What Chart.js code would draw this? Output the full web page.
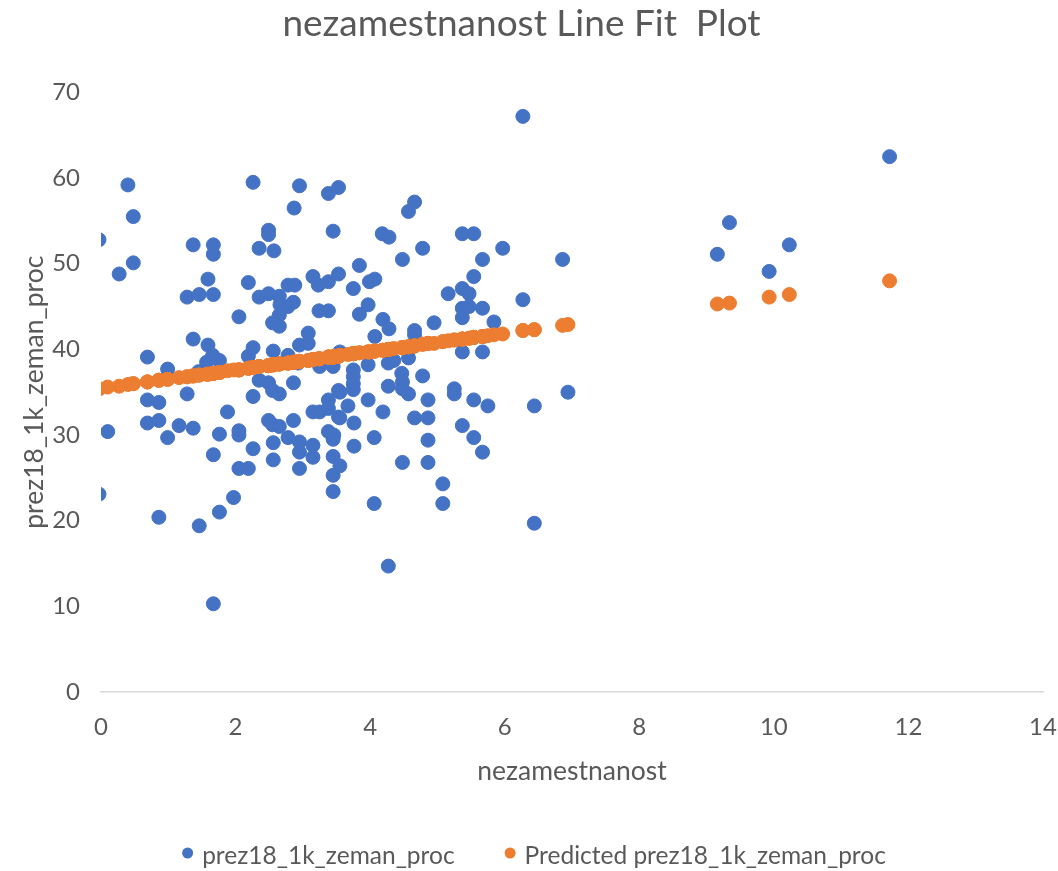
<!DOCTYPE html>
<html>
<head>
<meta charset="utf-8">
<title>nezamestnanost Line Fit Plot</title>
<script src="https://cdn.jsdelivr.net/npm/chart.js@4.4.1/dist/chart.umd.min.js"></script>
<style>
  html, body { margin: 0; padding: 0; background: #ffffff; }
  canvas { display: block; }
</style>
</head>
<body>
<canvas id="fitChart" width="1058" height="871"></canvas>
<script>
const nezamestnanost = [
  0.40, 2.26, 2.95, 3.38, 3.53, 0.48, 2.87, -0.03, 2.49, 2.49,
  3.45, 1.37, 1.67, 1.67, 2.35, 2.57, 0.48, 0.27, 1.59, 2.19,
  3.15, 3.23, 3.38, 3.53, 2.78, 2.88, 1.28, 1.46, 1.67, 2.35,
  2.49, 2.65, 2.66, 2.86, 2.78, 2.05, 2.65, 2.55, 2.65, 3.24,
  3.38, 1.37, 1.59, 3.08, 2.95, 3.08, 2.26, 2.19, 2.56, 0.69,
  1.66, 1.76, 1.57, 2.78, 0.99, 3.25, 3.45, 2.93, 3.55, 1.45,
  0.69, 0.86, 1.28, 0.69, 0.86, 0.10, 0.99, 1.16, 1.37, 1.88,
  1.76, 2.05, 2.05, 1.67, 2.26, 2.05, 2.19, 2.35, 2.49, 2.26,
  2.55, 2.65, 2.86, 2.49, 2.55, 2.65, 2.86, 2.56, 2.56, 2.78,
  2.95, 2.95, 3.15, 3.15, 2.95, 3.15, 3.25, 3.38, 3.38, 3.53,
  3.53, 3.38, 3.45, 3.45, 3.45, 3.45, -0.03, 0.86, 1.46, 1.76,
  1.97, 1.67, 6.27, 4.66, 4.57, 4.18, 4.28, 5.37, 5.54, 4.78,
  5.97, 4.48, 5.67, 6.86, 3.84, 5.54, 3.99, 4.07, 3.75, 5.16,
  5.37, 5.47, 6.27, 3.97, 3.84, 5.37, 5.47, 5.37, 5.67, 4.19,
  4.28, 4.95, 5.84, 4.66, 4.66, 4.07, 5.37, 5.67, 3.97, 4.27,
  4.35, 4.57, 3.75, 3.75, 4.47, 4.78, 3.75, 3.75, 4.48, 4.48,
  4.57, 4.27, 3.55, 3.67, 3.97, 4.19, 4.86, 5.25, 5.25, 5.54,
  5.75, 6.44, 6.94, 3.55, 3.76, 4.66, 4.86, 5.37, 5.54, 5.67,
  3.46, 4.06, 4.86, 3.76, 3.55, 4.48, 4.86, 5.08, 4.06, 5.08,
  6.44, 4.27, 11.72, 9.34, 9.16, 10.23, 9.93
];

const zemanProc = [
  59.2, 59.5, 59.1, 58.2, 58.9, 55.5, 56.5, 52.8, 53.9, 53.4,
  53.8, 52.2, 52.2, 51.1, 51.8, 51.5, 50.1, 48.8, 48.2, 47.8,
  48.5, 47.5, 47.9, 48.8, 47.5, 47.5, 46.1, 46.4, 46.4, 46.1,
  46.5, 46.2, 45.2, 45.5, 45.0, 43.8, 44.0, 43.1, 42.7, 44.5,
  44.5, 41.2, 40.5, 41.9, 40.5, 40.7, 40.2, 39.2, 39.8, 39.1,
  39.3, 38.7, 38.5, 39.3, 37.7, 38.0, 38.0, 38.4, 39.7, 37.4,
  34.1, 33.8, 34.8, 31.4, 31.7, 30.4, 29.7, 31.1, 30.8, 32.7,
  30.1, 30.5, 30.0, 27.7, 28.4, 26.1, 26.1, 36.4, 36.1, 34.5,
  35.2, 34.8, 36.1, 31.7, 31.2, 31.0, 31.7, 29.1, 27.1, 29.7,
  29.2, 28.0, 28.8, 27.4, 26.1, 32.7, 32.7, 33.1, 34.1, 35.2,
  32.1, 30.4, 29.5, 27.5, 25.3, 23.4, 23.1, 20.4, 19.4, 21.0,
  22.7, 10.3, 67.2, 57.2, 56.1, 53.5, 53.1, 53.5, 53.5, 51.8,
  51.8, 50.5, 50.5, 50.5, 49.8, 48.5, 47.9, 48.2, 47.1, 46.5,
  47.1, 46.5, 45.8, 45.2, 44.1, 44.8, 45.0, 43.7, 44.8, 43.5,
  42.4, 43.1, 43.2, 42.2, 41.7, 41.5, 39.7, 39.7, 38.2, 38.4,
  38.7, 39.0, 37.6, 36.8, 37.2, 36.9, 36.0, 35.3, 36.2, 35.4,
  34.8, 35.7, 35.0, 33.4, 34.1, 32.7, 34.1, 35.4, 34.8, 34.1,
  33.4, 33.4, 35.0, 32.0, 31.4, 32.0, 32.0, 31.1, 29.7, 28.0,
  30.0, 29.7, 29.4, 28.7, 26.4, 26.8, 26.8, 24.3, 22.0, 22.0,
  19.7, 14.7, 62.5, 54.8, 51.1, 52.2, 49.1
];

const predictedProc = [
  35.9, 37.9, 38.6, 39.1, 39.2, 36.0, 38.5, 35.4, 38.1, 38.1,
  39.1, 36.9, 37.2, 37.2, 38.0, 38.2, 36.0, 35.7, 37.1, 37.8,
  38.8, 38.9, 39.1, 39.2, 38.4, 38.5, 36.8, 37.0, 37.2, 38.0,
  38.1, 38.3, 38.3, 38.5, 38.4, 37.6, 38.3, 38.2, 38.3, 38.9,
  39.1, 36.9, 37.1, 38.7, 38.6, 38.7, 37.9, 37.8, 38.2, 36.2,
  37.2, 37.3, 37.1, 38.4, 36.5, 38.9, 39.1, 38.6, 39.3, 37.0,
  36.2, 36.4, 36.8, 36.2, 36.4, 35.6, 36.5, 36.7, 36.9, 37.5,
  37.3, 37.6, 37.6, 37.2, 37.9, 37.6, 37.8, 38.0, 38.1, 37.9,
  38.2, 38.3, 38.5, 38.1, 38.2, 38.3, 38.5, 38.2, 38.2, 38.4,
  38.6, 38.6, 38.8, 38.8, 38.6, 38.8, 38.9, 39.1, 39.1, 39.2,
  39.2, 39.1, 39.1, 39.1, 39.1, 39.1, 35.4, 36.4, 37.0, 37.3,
  37.6, 37.2, 42.2, 40.4, 40.3, 39.9, 40.0, 41.2, 41.4, 40.6,
  41.8, 40.2, 41.5, 42.8, 39.6, 41.4, 39.7, 39.8, 39.5, 41.0,
  41.2, 41.3, 42.2, 39.7, 39.6, 41.2, 41.3, 41.2, 41.5, 39.9,
  40.0, 40.7, 41.7, 40.4, 40.4, 39.8, 41.2, 41.5, 39.7, 40.0,
  40.1, 40.3, 39.5, 39.5, 40.2, 40.6, 39.5, 39.5, 40.2, 40.2,
  40.3, 40.0, 39.3, 39.4, 39.7, 39.9, 40.7, 41.1, 41.1, 41.4,
  41.6, 42.3, 42.9, 39.3, 39.5, 40.4, 40.7, 41.2, 41.4, 41.5,
  39.2, 39.8, 40.7, 39.5, 39.3, 40.2, 40.7, 40.9, 39.8, 40.9,
  42.3, 40.0, 48.0, 45.4, 45.3, 46.4, 46.1
];

const xTicks = [0, 2, 4, 6, 8, 10, 12, 14];
const yTicks = [0, 10, 20, 30, 40, 50, 60, 70];
const seriesNames = ['prez18_1k_zeman_proc', 'Predicted prez18_1k_zeman_proc'];

const BLUE = '#4472C4';
const ORANGE = '#ED7D31';
const TEXT = '#595959';
const FONT = 'Lato, "Open Sans", sans-serif';

function toPoints(xs, ys) {
    return xs.map((x, i) => ({x: x, y: ys[i]}));
}

// legend drawn by hand so the item spacing matches the Excel one
const bottomLegend = {
    id: 'bottomLegend',
    afterDraw(chart) {
        const {ctx} = chart;
        const y = 856;
        const gap = 50;
        const r = 5.5;
        ctx.save();
        ctx.font = '24.5px ' + FONT;
        ctx.textBaseline = 'middle';
        const widths = seriesNames.map(t => ctx.measureText(t).width);
        const total = widths.reduce((a, w) => a + w + 2 * r + 9, 0) + gap * (seriesNames.length - 1);
        let x = 534 - total / 2;
        chart.data.datasets.forEach((ds, i) => {
            ctx.fillStyle = ds.backgroundColor;
            ctx.beginPath();
            ctx.arc(x + r, y - 3, r, 0, Math.PI * 2);
            ctx.fill();
            ctx.fillStyle = TEXT;
            ctx.fillText(seriesNames[i], x + 2 * r + 9, y);
            x += 2 * r + 9 + widths[i] + gap;
        });
        ctx.restore();
    }
};

const chart = new Chart(document.getElementById('fitChart'), {
    type: 'scatter',
    data: {
        datasets: [{
            label: seriesNames[0],
            data: toPoints(nezamestnanost, zemanProc),
            backgroundColor: BLUE,
            borderColor: BLUE,
            pointRadius: 7,
            pointBorderWidth: 1,
            order: 2
        }, {
            label: seriesNames[1],
            data: toPoints(nezamestnanost, predictedProc),
            backgroundColor: ORANGE,
            borderColor: ORANGE,
            pointRadius: 7,
            pointBorderWidth: 1,
            order: 1
        }]
    },
    options: {
        responsive: false,
        animation: false,
        devicePixelRatio: 1,
        layout: {padding: {left: 0, right: 15, top: 0, bottom: 0}},
        plugins: {
            legend: {display: false},
            tooltip: {enabled: false},
            title: {
                display: true,
                text: 'nezamestnanost Line Fit  Plot',
                color: TEXT,
                font: {family: FONT, size: 37, weight: 'normal'},
                padding: {top: 2, bottom: 46}
            }
        },
        scales: {
            x: {
                type: 'linear',
                min: 0,
                max: 14,
                afterBuildTicks: s => { s.ticks = xTicks.map(v => ({value: v})); },
                afterFit: s => { s.height = 179; s.paddingLeft = 0; s.paddingRight = 0; },
                ticks: {color: TEXT, font: {family: FONT, size: 24}, padding: 21},
                grid: {display: false, drawTicks: false},
                border: {display: true, color: '#D9D9D9', width: 1.5},
                title: {
                    display: true,
                    text: 'nezamestnanost',
                    color: TEXT,
                    font: {family: FONT, size: 26.5},
                    padding: {top: 0, bottom: 84}
                }
            },
            y: {
                min: 0,
                max: 70,
                afterBuildTicks: s => { s.ticks = yTicks.map(v => ({value: v})); },
                afterFit: s => { s.width = 101; s.paddingTop = 0; s.paddingBottom = 0; },
                ticks: {color: TEXT, font: {family: FONT, size: 24}, padding: 21},
                grid: {display: false, drawTicks: false},
                border: {display: false},
                title: {
                    display: true,
                    text: 'prez18_1k_zeman_proc',
                    color: TEXT,
                    font: {family: FONT, size: 26.5},
                    padding: {top: 19, bottom: 0}
                }
            }
        }
    },
    plugins: [bottomLegend]
});
</script>
</body>
</html>
